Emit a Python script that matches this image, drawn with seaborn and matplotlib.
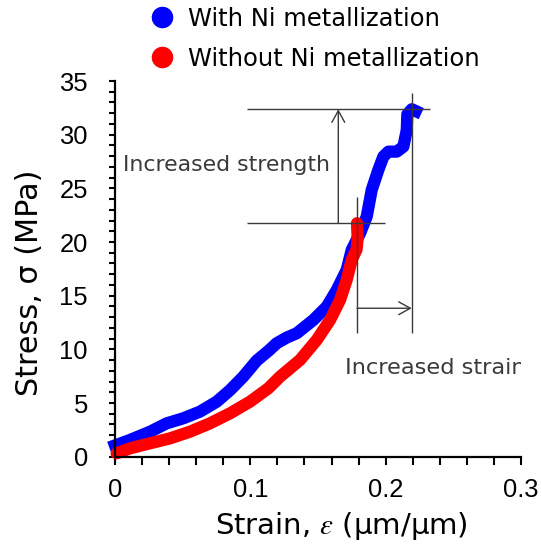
import numpy as np
import pandas as pd
import matplotlib
matplotlib.use("Agg")
import matplotlib.pyplot as plt
from matplotlib.lines import Line2D
from matplotlib.ticker import MultipleLocator
import seaborn as sns

# Stress-strain curves (strain in um/um, stress in MPa)
with_ni_strain = [0.0, 0.0111, 0.0259, 0.0382, 0.0505, 0.0628, 0.0752, 0.0850,
                  0.0948, 0.1047, 0.1133, 0.1195, 0.1269, 0.1343, 0.1466, 0.1565,
                  0.1639, 0.1712, 0.1749, 0.1811, 0.1860, 0.1897, 0.1946, 0.1983,
                  0.2020, 0.2082, 0.2131, 0.2156, 0.2160, 0.2193, 0.2222]
with_ni_stress = [1.05, 1.56, 2.33, 3.11, 3.58, 4.20, 5.13, 6.20,
                  7.46, 8.95, 9.85, 10.57, 11.10, 11.50, 12.74, 13.98,
                  15.54, 17.40, 19.26, 20.82, 22.37, 24.86, 26.72, 27.96,
                  28.42, 28.42, 28.89, 30.45, 31.90, 32.37, 32.20]

without_ni_strain = [0.0012, 0.0111, 0.0259, 0.0407, 0.0554, 0.0702, 0.0850,
                     0.0998, 0.1133, 0.1220, 0.1367, 0.1491, 0.1589, 0.1663,
                     0.1712, 0.1749, 0.1785, 0.1793, 0.1788]
without_ni_stress = [0.31, 0.78, 1.25, 1.71, 2.33, 3.11, 4.04,
                     5.13, 6.37, 7.46, 9.01, 10.88, 12.74, 14.60,
                     16.47, 18.33, 19.30, 20.40, 21.75]

series_labels = ["With Ni metallization", "Without Ni metallization"]
series_colors = ["#0000ff", "#ff0000"]

x_ticks = [0, 0.1, 0.2, 0.3]
x_tick_labels = ["0", "0.1", "0.2", "0.3"]
y_ticks = [0, 5, 10, 15, 20, 25, 30, 35]
y_tick_labels = ["0", "5", "10", "15", "20", "25", "30", "35"]

df = pd.concat([
    pd.DataFrame({"strain": with_ni_strain, "stress": with_ni_stress,
                  "sample": series_labels[0]}),
    pd.DataFrame({"strain": without_ni_strain, "stress": without_ni_stress,
                  "sample": series_labels[1]}),
], ignore_index=True)

sns.set_style("ticks")
plt.rcParams["font.family"] = ["Liberation Sans", "DejaVu Sans"]
plt.rcParams["mathtext.fontset"] = "stix"
for key in ("text.color", "axes.labelcolor", "xtick.color", "ytick.color",
            "xtick.labelcolor", "ytick.labelcolor"):
    plt.rcParams[key] = "black"

fig = plt.figure(figsize=(5.41, 5.48), dpi=100)
ax = fig.add_axes([115 / 541, 1 - 456.7 / 548, 406 / 541, 375.7 / 548])

sns.lineplot(data=df, x="strain", y="stress", hue="sample",
             hue_order=series_labels, palette=dict(zip(series_labels, series_colors)),
             sort=False, estimator=None, linewidth=8.8, legend=False, ax=ax)
lines = ax.get_lines()
lines[0].set_solid_capstyle("projecting")
lines[0].set_solid_joinstyle("round")
lines[1].set_solid_capstyle("round")
lines[1].set_solid_joinstyle("round")
for ln in lines:
    ln.set_clip_on(False)

ax.set_xlim(0, 0.3)
ax.set_ylim(0, 35)
ax.set_xticks(x_ticks)
ax.set_xticklabels(x_tick_labels)
ax.set_yticks(y_ticks)
ax.set_yticklabels(y_tick_labels)
ax.xaxis.set_minor_locator(MultipleLocator(0.02))
ax.yaxis.set_minor_locator(MultipleLocator(1))
ax.tick_params(axis="x", which="both", direction="out", length=6, width=1.5,
               pad=9.5, labelsize=18.4, color="black", labelcolor="black")
ax.tick_params(axis="y", which="both", direction="out", length=4.5, width=1.5,
               pad=15, labelsize=18.4, color="black", labelcolor="black")
for side in ("top", "right"):
    ax.spines[side].set_visible(False)
for side in ("left", "bottom"):
    ax.spines[side].set_linewidth(1.6)
    ax.spines[side].set_color("black")

ax.set_xlabel(r"Strain, $\varepsilon$ (μm/μm)", fontsize=21, family="DejaVu Sans",
              color="black")
ax.set_ylabel("Stress, σ (MPa)", fontsize=21.8, family="DejaVu Sans", color="black")
ax.xaxis.set_label_coords((341.5 - 115) / 406, -0.143)
ax.yaxis.set_label_coords(-0.175, 0.463)

# Annotations: gain in strength and strain from the metallization
ann_color = "#3a3a3a"
i_b = int(np.argmax(with_ni_stress))
i_r = int(np.argmax(without_ni_stress))
x_blue, y_blue = with_ni_strain[i_b], with_ni_stress[i_b]
x_red, y_red = without_ni_strain[i_r], without_ni_stress[i_r]

ax.hlines(y_blue, 0.0973, 0.2328, color=ann_color, lw=1.0, zorder=5)
ax.hlines(y_red, 0.0973, 0.1996, color=ann_color, lw=1.0, zorder=5)
ax.vlines(x_blue, 11.5, 33.87, color=ann_color, lw=1.0, zorder=5)
ax.vlines(x_red, 11.5, 24.2, color=ann_color, lw=1.0, zorder=5)
arrow = dict(arrowstyle="->,head_length=0.6,head_width=0.33", lw=1.0,
             color=ann_color, shrinkA=0, shrinkB=0, mutation_scale=14)
ax.annotate("", xy=(0.165, y_blue), xytext=(0.165, y_red), arrowprops=arrow, zorder=5)
ax.annotate("", xy=(x_blue, 13.83), xytext=(x_red, 13.83), arrowprops=arrow, zorder=5)

ax.text(0.0062, 27.2, "Increased strength", fontsize=15.8, color=ann_color,
        family="DejaVu Sans", ha="left", va="center", zorder=6)
ax.text(0.170, 8.24, "Increased strain", fontsize=16.2, color=ann_color,
        family="DejaVu Sans", ha="left", va="center", zorder=6, clip_on=True)

handles = [Line2D([], [], ls="none", marker="o", markersize=14.5,
                  markerfacecolor=c, markeredgecolor=c) for c in series_colors]
fig.legend(handles, series_labels, loc="upper left",
           bbox_to_anchor=(152.6 / 541, 1 - 6.5 / 548), frameon=False,
           borderpad=0, borderaxespad=0, handlelength=0.8, handletextpad=0.64,
           labelspacing=0.66, prop={"family": "DejaVu Sans", "size": 17.5})

fig.savefig("out.png", dpi=100)
